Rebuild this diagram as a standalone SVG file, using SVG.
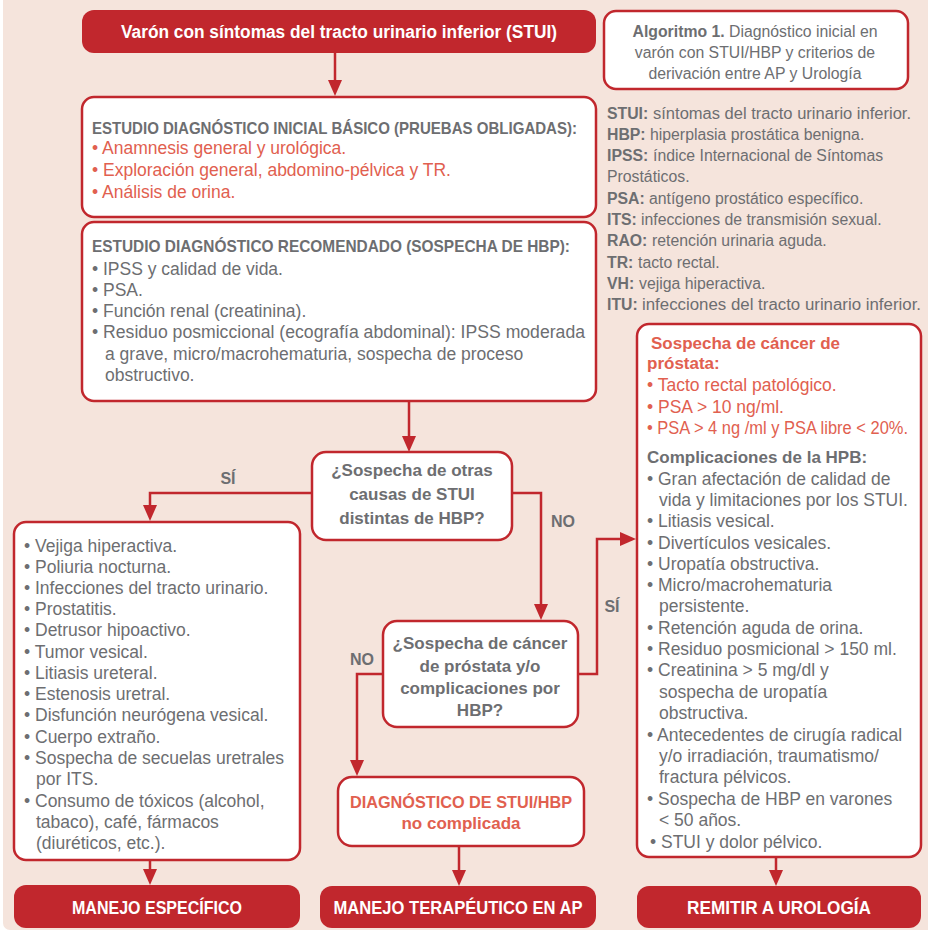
<svg xmlns="http://www.w3.org/2000/svg" width="928" height="933" viewBox="0 0 928 933">
  <style>
    text { font-family: "Liberation Sans", Arial, sans-serif; }
    .t { font-size: 17.5px; fill: #6d6e71; }
    .s { font-size: 15.8px; fill: #6d6e71; }
    .b { font-weight: bold; }
    .h { font-weight: bold; font-size: 17px; }
    .red { fill: #e1604f; }
    .w { fill: #ffffff; font-weight: bold; font-size: 18px; }
    .q { font-size: 17px; font-weight: bold; fill: #6d6e71; text-anchor: middle; }
    .q.red { fill: #e1604f; }
    .lbl { font-size: 16px; font-weight: bold; fill: #6d6e71; text-anchor: middle; }
    .box { fill: #ffffff; stroke: #c1272d; stroke-width: 2.5; }
    .solid { fill: #c1272d; }
    .conn { fill: none; stroke: #c1272d; stroke-width: 2.5; }
  </style>
  <defs>
    <marker id="arrow" markerUnits="userSpaceOnUse" markerWidth="16" markerHeight="14" viewBox="0 0 16 14" refX="9" refY="7" orient="auto">
      <path d="M0,0 L16,7 L0,14 z" fill="#c1272d"/>
    </marker>
  </defs>

  <rect x="0" y="0" width="928" height="933" fill="#ffffff"/>
  <rect x="3" y="-10" width="935" height="940" rx="7" fill="#f5e4dc"/>

  <!-- connectors -->
  <g id="connectors">
    <path class="conn" d="M335,53 V89" marker-end="url(#arrow)"/>
    <path class="conn" d="M409,401 V445" marker-end="url(#arrow)"/>
    <path class="conn" d="M312,493 H150 V514" marker-end="url(#arrow)"/>
    <path class="conn" d="M512,493 H541 V613" marker-end="url(#arrow)"/>
    <path class="conn" d="M383,674 H357 V769" marker-end="url(#arrow)"/>
    <path class="conn" d="M578,674 H597 V539 H629" marker-end="url(#arrow)"/>
    <path class="conn" d="M150,860 V878" marker-end="url(#arrow)"/>
    <path class="conn" d="M459,847 V879" marker-end="url(#arrow)"/>
    <path class="conn" d="M776,857 V879" marker-end="url(#arrow)"/>
    <text class="lbl" x="228" y="484">SÍ</text>
    <text class="lbl" x="563" y="527">NO</text>
    <text class="lbl" x="362" y="665">NO</text>
    <text class="lbl" x="612" y="612">SÍ</text>
  </g>

  <!-- start -->
  <g id="start">
    <rect class="solid" x="82" y="10" width="514" height="43" rx="12"/>
    <text class="w" x="339" y="38" text-anchor="middle" textLength="436" lengthAdjust="spacingAndGlyphs">Varón con síntomas del tracto urinario inferior (STUI)</text>
  </g>

  <!-- caption and abbreviations -->
  <g id="caption">
    <rect class="box" x="604" y="11" width="304" height="78" rx="12"/>
    <text class="s" x="755" y="37" text-anchor="middle" font-size="16.5"><tspan class="b">Algoritmo 1.</tspan> Diagnóstico inicial en</text>
    <text class="s" x="755" y="58" text-anchor="middle" font-size="16.5">varón con STUI/HBP y criterios de</text>
    <text class="s" x="755" y="79" text-anchor="middle" font-size="16.5">derivación entre AP y Urología</text>
  </g>
  <g id="abbreviations" class="s">
    <text class="b" x="607" y="119">STUI:</text>
    <text x="653" y="119" textLength="258" lengthAdjust="spacingAndGlyphs">síntomas del tracto urinario inferior.</text>
    <text class="b" x="607" y="140">HBP:</text>
    <text x="650" y="140">hiperplasia prostática benigna.</text>
    <text class="b" x="607" y="161">IPSS:</text>
    <text x="653" y="161">índice Internacional de Síntomas</text>
    <text x="607" y="182">Prostáticos.</text>
    <text class="b" x="607" y="204">PSA:</text>
    <text x="649" y="204">antígeno prostático específico.</text>
    <text class="b" x="607" y="225">ITS:</text>
    <text x="641" y="225">infecciones de transmisión sexual.</text>
    <text class="b" x="607" y="246">RAO:</text>
    <text x="652" y="246">retención urinaria aguda.</text>
    <text class="b" x="607" y="268">TR:</text>
    <text x="638" y="268">tacto rectal.</text>
    <text class="b" x="607" y="289">VH:</text>
    <text x="639" y="289">vejiga hiperactiva.</text>
    <text class="b" x="607" y="310">ITU:</text>
    <text x="642" y="310" textLength="279" lengthAdjust="spacingAndGlyphs">infecciones del tracto urinario inferior.</text>
  </g>

  <!-- basic study -->
  <g id="basic-study" class="t">
    <rect class="box" x="82" y="97" width="514" height="120" rx="12"/>
    <text class="h" x="92" y="134" textLength="485" lengthAdjust="spacingAndGlyphs">ESTUDIO DIAGNÓSTICO INICIAL BÁSICO (PRUEBAS OBLIGADAS):</text>
    <text class="red" x="92" y="154">• Anamnesis general y urológica.</text>
    <text class="red" x="92" y="176">• Exploración general, abdomino-pélvica y TR.</text>
    <text class="red" x="92" y="198">• Análisis de orina.</text>
  </g>

  <!-- recommended study -->
  <g id="recommended-study" class="t">
    <rect class="box" x="82" y="222" width="514" height="179" rx="12"/>
    <text class="h" x="92" y="252" textLength="478" lengthAdjust="spacingAndGlyphs">ESTUDIO DIAGNÓSTICO RECOMENDADO (SOSPECHA DE HBP):</text>
    <text x="92" y="275">• IPSS y calidad de vida.</text>
    <text x="92" y="296">• PSA.</text>
    <text x="92" y="317">• Función renal (creatinina).</text>
    <text x="92" y="338" textLength="493" lengthAdjust="spacingAndGlyphs">• Residuo posmiccional (ecografía abdominal): IPSS moderada</text>
    <text x="105" y="360">a grave, micro/macrohematuria, sospecha de proceso</text>
    <text x="105" y="381">obstructivo.</text>
  </g>

  <!-- decision: other causes -->
  <g id="decision-other-causes">
    <rect class="box" x="312" y="452" width="200" height="88" rx="14"/>
    <text class="q" x="412" y="476">¿Sospecha de otras</text>
    <text class="q" x="412" y="500">causas de STUI</text>
    <text class="q" x="412" y="524">distintas de HBP?</text>
  </g>

  <!-- other causes list -->
  <g id="other-causes" class="t">
    <rect class="box" x="14" y="522" width="286" height="338" rx="12"/>
    <text x="24" y="552">• Vejiga hiperactiva.</text>
    <text x="24" y="573">• Poliuria nocturna.</text>
    <text x="24" y="594">• Infecciones del tracto urinario.</text>
    <text x="24" y="615">• Prostatitis.</text>
    <text x="24" y="636">• Detrusor hipoactivo.</text>
    <text x="24" y="658">• Tumor vesical.</text>
    <text x="24" y="679">• Litiasis ureteral.</text>
    <text x="24" y="700">• Estenosis uretral.</text>
    <text x="24" y="721">• Disfunción neurógena vesical.</text>
    <text x="24" y="743">• Cuerpo extraño.</text>
    <text x="24" y="764">• Sospecha de secuelas uretrales</text>
    <text x="36" y="785">por ITS.</text>
    <text x="24" y="807">• Consumo de tóxicos (alcohol,</text>
    <text x="36" y="828">tabaco), café, fármacos</text>
    <text x="36" y="849">(diuréticos, etc.).</text>
  </g>

  <!-- decision: cancer / complications -->
  <g id="decision-cancer">
    <rect class="box" x="383" y="621" width="195" height="106" rx="14"/>
    <text class="q" x="480" y="649">¿Sospecha de cáncer</text>
    <text class="q" x="480" y="672">de próstata y/o</text>
    <text class="q" x="480" y="694">complicaciones por</text>
    <text class="q" x="480" y="716">HBP?</text>
  </g>

  <!-- uncomplicated diagnosis -->
  <g id="uncomplicated">
    <rect class="box" x="338" y="777" width="246" height="69" rx="14"/>
    <text class="q red" x="461" y="808" textLength="222" lengthAdjust="spacingAndGlyphs">DIAGNÓSTICO DE STUI/HBP</text>
    <text class="q red" x="461" y="829">no complicada</text>
  </g>

  <!-- referral criteria -->
  <g id="referral-criteria" class="t">
    <rect class="box" x="637" y="324" width="284" height="533" rx="12"/>
    <text class="h red" x="651" y="349">Sospecha de cáncer de</text>
    <text class="h red" x="647" y="369">próstata:</text>
    <text class="red" x="647" y="391">• Tacto rectal patológico.</text>
    <text class="red" x="647" y="413">• PSA &gt; 10 ng/ml.</text>
    <text class="red" x="647" y="434" textLength="261" lengthAdjust="spacingAndGlyphs">• PSA &gt; 4 ng /ml y PSA libre &lt; 20%.</text>
    <text class="h" x="647" y="463">Complicaciones de la HPB:</text>
    <text x="647" y="485">• Gran afectación de calidad de</text>
    <text x="659" y="506">vida y limitaciones por los STUI.</text>
    <text x="647" y="527">• Litiasis vesical.</text>
    <text x="647" y="549">• Divertículos vesicales.</text>
    <text x="647" y="570">• Uropatía obstructiva.</text>
    <text x="647" y="591">• Micro/macrohematuria</text>
    <text x="659" y="612">persistente.</text>
    <text x="647" y="634">• Retención aguda de orina.</text>
    <text x="647" y="655">• Residuo posmicional &gt; 150 ml.</text>
    <text x="647" y="676">• Creatinina &gt; 5 mg/dl y</text>
    <text x="659" y="698">sospecha de uropatía</text>
    <text x="659" y="719">obstructiva.</text>
    <text x="647" y="741">• Antecedentes de cirugía radical</text>
    <text x="659" y="762">y/o irradiación, traumatismo/</text>
    <text x="659" y="783">fractura pélvicos.</text>
    <text x="647" y="805">• Sospecha de HBP en varones</text>
    <text x="659" y="826">&lt; 50 años.</text>
    <text x="650" y="848">• STUI y dolor pélvico.</text>
  </g>

  <!-- outcomes -->
  <g id="specific-management">
    <rect class="solid" x="14" y="885" width="286" height="43" rx="12"/>
    <text class="w" x="157" y="914" text-anchor="middle" textLength="170" lengthAdjust="spacingAndGlyphs">MANEJO ESPECÍFICO</text>
  </g>
  <g id="primary-care-management">
    <rect class="solid" x="320" y="886" width="276" height="42" rx="12"/>
    <text class="w" x="458" y="914" text-anchor="middle" textLength="249" lengthAdjust="spacingAndGlyphs">MANEJO TERAPÉUTICO EN AP</text>
  </g>
  <g id="urology-referral">
    <rect class="solid" x="637" y="886" width="284" height="42" rx="12"/>
    <text class="w" x="779" y="914" text-anchor="middle" textLength="184" lengthAdjust="spacingAndGlyphs">REMITIR A UROLOGÍA</text>
  </g>
</svg>
